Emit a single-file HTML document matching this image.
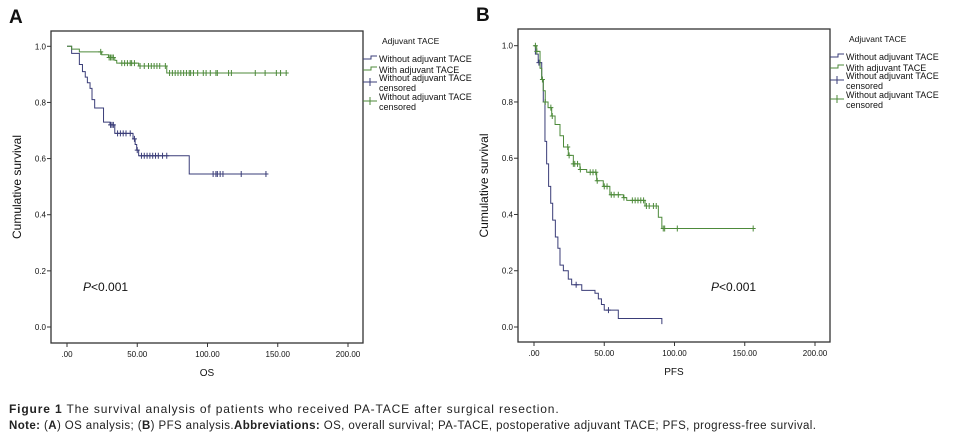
<!DOCTYPE html>
<html><head><meta charset="utf-8"><style>
body{margin:0;width:955px;height:444px;background:#fff;overflow:hidden;font-family:"Liberation Sans",sans-serif}
svg text{font-family:"Liberation Sans",sans-serif}
.cap{position:absolute;left:9px;font-size:11.5px;color:#222;font-family:"Liberation Sans",sans-serif;white-space:nowrap}
</style></head><body>
<svg id="c" width="955" height="444" style="position:absolute;left:0;top:0"></svg>
<div class="cap" style="top:402px;font-size:12px;letter-spacing:0.85px"><b>Figure 1</b> The survival analysis of patients who received PA-TACE after surgical resection.</div>
<div class="cap" style="top:420px;letter-spacing:0.4px"><b>Note:</b> (<b>A</b>) OS analysis; (<b>B</b>) PFS analysis.<b>Abbreviations:</b> OS, overall survival; PA-TACE, postoperative adjuvant TACE; PFS, progress-free survival.</div>
<script>
const xTicks=[0,50,100,150,200];
const xTickLabels=[".00","50.00","100.00","150.00","200.00"];
const yTicks=[0,0.2,0.4,0.6,0.8,1.0];
const yTickLabels=["0.0","0.2","0.4","0.6","0.8","1.0"];
const aBlueT=[0,3.3,8.8,11,13,14.5,16.4,17.8,19.7,26,30.6,34,47,48.5,49.6,51,87,141.6];
const aBlueS=[1,0.975,0.935,0.91,0.89,0.87,0.85,0.81,0.78,0.73,0.72,0.69,0.67,0.65,0.63,0.61,0.545,0.545];
const aBlueC=[31,32,33,36,38,40,42,45,48,50,53,55,57,59,61,63,65,68,71,104,106,107,109,111,124,141.6];
const aGreenT=[0,3.3,8.8,24.7,29.5,34,35.4,51,71,157.7];
const aGreenS=[1,0.99,0.98,0.97,0.96,0.95,0.94,0.93,0.905,0.905];
const aGreenC=[24,30,31,32,33,39,41,43,45,46,48,52,55,58,60,62,64,66,70,73,75,77,79,81,83,85,87,88,90,93,97,99,102,106,107,115,117,134,141,149,152,156];
const bBlueT=[0,1,3,5.5,6.6,7.8,9,10.4,11.9,13.3,15.2,17,18.5,20.9,24.4,26.8,34,43.4,45.8,48,50,60,91];
const bBlueS=[1,0.97,0.94,0.88,0.8,0.66,0.58,0.5,0.44,0.38,0.32,0.28,0.22,0.2,0.17,0.15,0.13,0.12,0.1,0.08,0.06,0.03,0.01];
const bBlueC=[3.5,30,53];
const bGreenT=[0,1.9,4.3,5.5,6.6,8,10,12.6,15,18.5,21,24.4,28,32.7,37.5,44.6,49.3,54,63.6,66,79,88.5,91,156];
const bGreenS=[1,0.98,0.92,0.88,0.84,0.8,0.78,0.75,0.72,0.68,0.64,0.61,0.58,0.56,0.55,0.52,0.5,0.47,0.46,0.45,0.43,0.39,0.35,0.35];
const bGreenC=[1,2,6,8,12,13,24,25,28,29,31,33,40,42,44,45,50,52,55,57,60,64,70,72,74,76,78,80,82,85,87,92,93,102,156];
const BLUE="#3a3d78",GREEN="#4d8a3a";
const NS="http://www.w3.org/2000/svg";
const svg=document.getElementById('c');
function el(t,a,p){const e=document.createElementNS(NS,t);for(const k in a)e.setAttribute(k,a[k]);(p||svg).appendChild(e);return e;}
function txt(x,y,s,size,anchor,extra){const e=el('text',Object.assign({x:x,y:y,'font-size':size,'text-anchor':anchor||'start',fill:'#111'},extra||{}));e.textContent=s;return e;}
function panel(P){
  const g=el('g',{});
  
  
  const sx=v=>P.x0+(P.x200-P.x0)*v/200, sy=v=>P.y0+(P.y1-P.y0)*v;
  const box=el('rect',{x:P.bx,y:P.by,width:P.bw,height:P.bh,fill:'none',stroke:'#333','stroke-width':1.3},g);
  
  
  xTicks.forEach((t,i)=>{el('line',{x1:sx(t),x2:sx(t),y1:P.by+P.bh,y2:P.by+P.bh+4,stroke:'#333'},g);
    const l=txt(sx(t),P.by+P.bh+14,xTickLabels[i],8,'middle',{});g.appendChild(l);});
  yTicks.forEach((t,i)=>{el('line',{x1:P.bx-4,x2:P.bx,y1:sy(t),y2:sy(t),stroke:'#333'},g);
    const l=txt(P.bx-5,sy(t)+3,yTickLabels[i],8,'end',{});g.appendChild(l);});
  const xt=txt((P.bx+P.bx+P.bw)/2,P.by+P.bh+33,P.xlabel,10,'middle');
  
  const yt=txt(0,0,'Cumulative survival',12,'middle',{transform:`translate(${P.bx-30},${(P.by+P.by+P.bh)/2}) rotate(-90)`});
  
  const pt=txt(P.px,P.py,'',12,'start');
  pt.innerHTML='<tspan font-style="italic">P</tspan>&lt;0.001';
  
  const lt=txt(P.bx-42,P.by-8,P.letter,19,'start',{'font-weight':'bold'});
  
  function step(T,S,C,col,nm){
    let d=`M${sx(T[0])},${sy(S[0])}`;
    for(let i=1;i<T.length;i++){d+=`H${sx(T[i])}V${sy(S[i])}`;}
    const p=el('path',{d:d,fill:'none',stroke:col,'stroke-width':1},g);
    
    C.forEach(c=>{let s=S[0];for(let i=0;i<T.length;i++){if(T[i]<=c)s=S[i];}
      const m=el('path',{d:`M${sx(c)-2.5},${sy(s)}h5M${sx(c)},${sy(s)-3}v6`,stroke:col,'stroke-width':1},g);
      });
  }
  step(P.bT,P.bS,P.bC,BLUE,'without-tace');
  step(P.gT,P.gS,P.gC,GREEN,'with-tace');
  const lx=P.bx+P.bw, ly=P.by;
  const lg=el('g',{},g);
  lg.appendChild(txt(lx+19,ly+13,'Adjuvant TACE',8.5,'start'));
  const items=[[BLUE,'Without adjuvant TACE',null,'step'],[GREEN,'With adjuvant TACE',null,'step'],[BLUE,'Without adjuvant TACE','censored','cross'],[GREEN,'Without adjuvant TACE','censored','cross']];
  const ys=[28,39,51,70];
  items.forEach((it,i)=>{const y=ly+ys[i];
    const e=el('g',{},lg);
    if(it[3]=='step')el('path',{d:`M${lx},${y}h8v-3h6`,fill:'none',stroke:it[0]},e);
    else el('path',{d:`M${lx},${y}h14M${lx+7},${y-4}v8`,fill:'none',stroke:it[0]},e);
    e.appendChild(txt(lx+16,y+(it[2]?-1:3),it[1],9,'start'));
    if(it[2])e.appendChild(txt(lx+16,y+9,it[2],9,'start'));
  });
}
panel({name:'panel-a-os',letter:'A',bx:51,by:31,bw:312,bh:312,x0:67,x200:348,y0:327,y1:46.3,xlabel:'OS',px:83,py:291,
  bT:aBlueT,bS:aBlueS,bC:aBlueC,gT:aGreenT,gS:aGreenS,gC:aGreenC});
panel({name:'panel-b-pfs',letter:'B',bx:518,by:29,bw:312,bh:313,x0:534,x200:815,y0:327,y1:45.7,xlabel:'PFS',px:711,py:291,
  bT:bBlueT,bS:bBlueS,bC:bBlueC,gT:bGreenT,gS:bGreenS,gC:bGreenC});
</script>
</body></html>
